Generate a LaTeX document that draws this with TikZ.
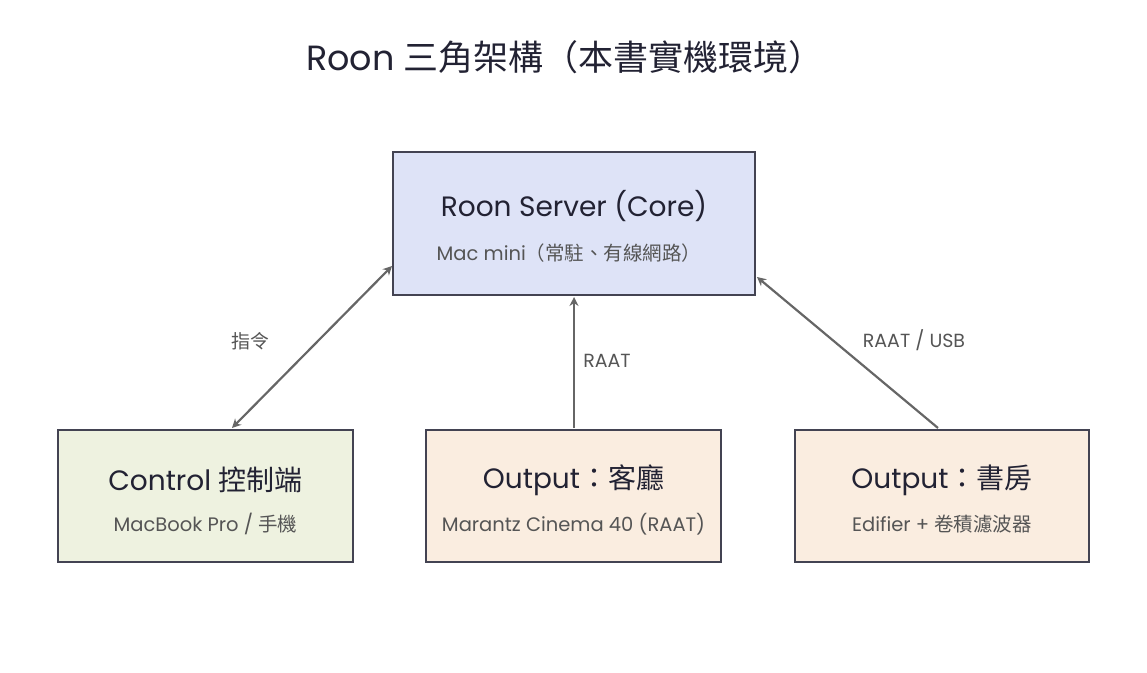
\documentclass[tikz,border=0pt]{standalone}
\usepackage{fontspec}
\setmainfont{Poppins}
\newfontfamily\cjk{Noto Sans CJK TC}
\usetikzlibrary{arrows.meta}
\definecolor{ink}{HTML}{222233}
\definecolor{sub}{HTML}{555555}
\definecolor{edge}{HTML}{666666}
\definecolor{bluef}{HTML}{DEE3F7}
\definecolor{greenf}{HTML}{EEF2E0}
\definecolor{orangef}{HTML}{FAEDE0}
\tikzset{
 conn/.style={draw=edge,line width=2.2pt,-{Stealth[length=9pt,width=9pt]}},
 lbl/.style={text=sub,font=\fontsize{19}{22}\selectfont},
 ttl/.style={text=ink,font=\fontsize{28}{32}\selectfont},
 sbt/.style={text=sub,font=\fontsize{19.5}{22}\selectfont},
}
\begin{document}
\begin{tikzpicture}[x=1pt,y=-1pt]
\useasboundingbox (0,0) rectangle (1147,672);
\node[text=ink,font=\fontsize{35}{40}\selectfont] (t) at (565,57) {Roon {\cjk 三角架構（本書實機環境）}};
\draw[fill=bluef,draw=ink!85,line width=1.6pt] (393,152) rectangle (755,295);
\node (s) at (574,223.5) [minimum width=362pt,minimum height=143pt] {};
\node[ttl] (st) at (574,206) {Roon Server (Core)};
\node[sbt] (ss) at (569,253) {Mac mini{\cjk （常駐、有線網路）}};

\draw[fill=greenf,draw=ink!85,line width=1.6pt] (58,430) rectangle (353,562);
\node (c) at (205.5,496) [minimum width=295pt,minimum height=132pt] {};
\node[ttl] at (205.5,480) {Control {\cjk 控制端}};
\node[sbt] at (205.5,524) {MacBook Pro / {\cjk 手機}};

\draw[fill=orangef,draw=ink!85,line width=1.6pt] (426,430) rectangle (721,562);
\node (o1) at (573.5,496) [minimum width=295pt,minimum height=132pt] {};
\node[ttl] at (573.5,480) {Output{\cjk ：客廳}};
\node[sbt] at (573.5,524) {Marantz Cinema 40 (RAAT)};

\draw[fill=orangef,draw=ink!85,line width=1.6pt] (795,430) rectangle (1089,562);
\node (o2) at (942,496) [minimum width=294pt,minimum height=132pt] {};
\node[ttl] at (942,480) {Output{\cjk ：書房}};
\node[sbt] at (942,524) {Edifier + {\cjk 卷積濾波器}};

\coordinate (a1) at (232,428); \coordinate (a2) at (392,266);
\coordinate (b1) at (574,428); \coordinate (b2) at (574,297);
\coordinate (c1) at (938,428); \coordinate (c2) at (757,277);
\draw[conn,{Stealth[length=9pt,width=9pt]}-{Stealth[length=9pt,width=9pt]}] (a1) -- (a2);
\draw[conn] (b1) -- (b2);
\draw[conn] (c1) -- (c2);
\node[lbl] at (250,341) {\cjk 指令};
\node[lbl] at (607,361) {RAAT};
\node[lbl] at (914,340) {RAAT / USB};
\end{tikzpicture}
\end{document}
